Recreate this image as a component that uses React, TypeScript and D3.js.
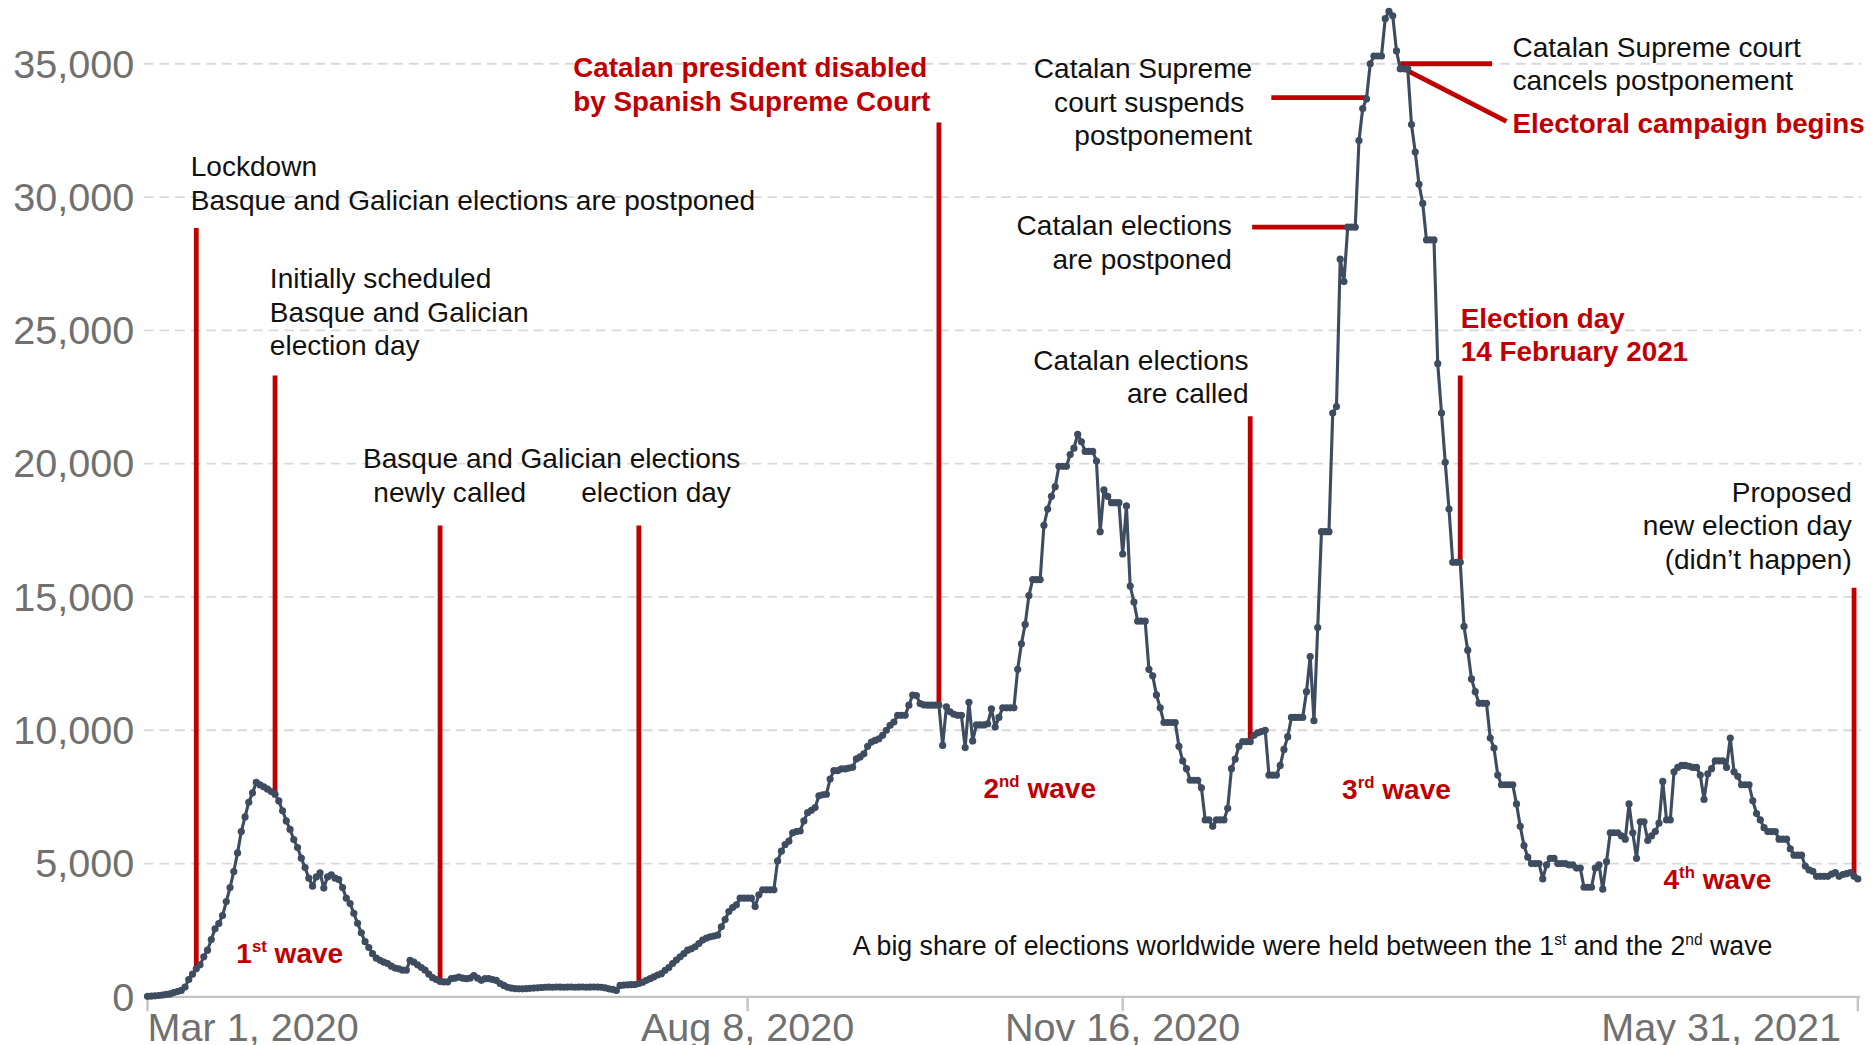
import React from 'react';
import * as d3 from 'd3';

// ---------- DATA ----------
const START = new Date(2020, 2, 1);
const END = new Date(2021, 4, 31);

const mar2020 = [20, 30, 40, 50, 70, 90, 110, 160, 200, 240, 365, 650, 850, 1050, 1200, 1500, 1750, 2150, 2550, 2750, 3050, 3575, 4100, 4700, 5400, 6200, 6750, 7300, 7650, 8050, 7950];
const apr2020 = [7880, 7790, 7700, 7600, 7350, 6980, 6600, 6280, 5900, 5600, 5200, 4850, 4450, 4150, 4500, 4650, 4080, 4500, 4580, 4450, 4400, 4100, 3700, 3500, 3135, 2760, 2400, 2070, 1850, 1620];
const may2020 = [1450, 1370, 1300, 1250, 1150, 1080, 1050, 1000, 1000, 1370, 1300, 1200, 1100, 1000, 850, 720, 650, 580, 560, 560, 680, 700, 740, 700, 680, 700, 800, 700, 620, 680, 680];
const jun2020 = [650, 615, 500, 430, 360, 330, 310, 300, 300, 310, 320, 330, 340, 350, 360, 365, 360, 370, 365, 360, 365, 370, 360, 365, 370, 360, 365, 370, 365, 360];
const jul2020 = [340, 300, 280, 240, 430, 440, 450, 455, 460, 500, 550, 620, 680, 750, 820, 870, 995, 1100, 1250, 1380, 1500, 1620, 1750, 1800, 1880, 2000, 2130, 2200, 2250, 2280, 2315];
const aug2020 = [2630, 2900, 3200, 3350, 3450, 3700, 3700, 3700, 3700, 3385, 3830, 4015, 4015, 4015, 4015, 5100, 5465, 5715, 5840, 6155, 6200, 6220, 6600, 6910, 7000, 7100, 7540, 7580, 7600, 8170, 8485];
const sep2020 = [8485, 8550, 8550, 8580, 8610, 8925, 9000, 9115, 9400, 9555, 9620, 9680, 9810, 10000, 10185, 10310, 10560, 10560, 10560, 10940, 11320, 11300, 11000, 10950, 10940, 10940, 10940, 10940, 9430, 10880];
const oct2020 = [10690, 10600, 10560, 10560, 9350, 11050, 9600, 10200, 10200, 10200, 10240, 10800, 10120, 10480, 10840, 10840, 10840, 10840, 12285, 13245, 13970, 15050, 15650, 15650, 15650, 17690, 18295, 18775, 19135, 19900, 19900];
const nov2020 = [19900, 20340, 20580, 21100, 20820, 20460, 20460, 20460, 20100, 17450, 19015, 18775, 18535, 18535, 18535, 16610, 18415, 15410, 14810, 14090, 14090, 14090, 12285, 12045, 11325, 10840, 10290, 10290, 10290, 10290];
const dec2020 = [9400, 8850, 8560, 8125, 8125, 8125, 7840, 6635, 6635, 6395, 6635, 6635, 6635, 7070, 8560, 8920, 9400, 9570, 9570, 9570, 9810, 9900, 9950, 10000, 8320, 8320, 8320, 8680, 9280, 9760, 10480];
const jan2021 = [10480, 10480, 10480, 11445, 12765, 10360, 13850, 17450, 17450, 17450, 21900, 22140, 27670, 26830, 28870, 28870, 28870, 32120, 33320, 33680, 35000, 35290, 35290, 35290, 36690, 36970, 36800, 35480, 34810, 34810, 34810];
const feb2021 = [32720, 31685, 30480, 29760, 28390, 28390, 28390, 23750, 21900, 20050, 18295, 16300, 16300, 16300, 13895, 13005, 11925, 11445, 11010, 11010, 11010, 9710, 9330, 8320, 7955, 7955, 7955, 7955];
const mar2021 = [7235, 6395, 5675, 5240, 5000, 5000, 5000, 4425, 4950, 5195, 5195, 5000, 5000, 5000, 4950, 4950, 4830, 4830, 4110, 4110, 4110, 4830, 4950, 4040, 5070, 6155, 6155, 6155, 6035, 5915, 7235];
const apr2021 = [6155, 5195, 6565, 6565, 5865, 6035, 6200, 6515, 8080, 6635, 6635, 8440, 8605, 8680, 8680, 8650, 8605, 8605, 8320, 7405, 8365, 8560, 8850, 8850, 8850, 8605, 9710, 8440, 8270, 7955];
const may2021 = [7955, 7955, 7355, 6875, 6635, 6345, 6200, 6200, 6200, 5915, 5915, 5915, 5555, 5315, 5315, 5315, 4905, 4760, 4710, 4520, 4520, 4520, 4520, 4600, 4665, 4520, 4590, 4620, 4665, 4520, 4425];

const monthly = [mar2020, apr2020, may2020, jun2020, jul2020, aug2020, sep2020, oct2020, nov2020, dec2020, jan2021, feb2021, mar2021, apr2021, may2021];

const yTicks = [0, 5000, 10000, 15000, 20000, 25000, 30000, 35000];
const xTickDates = ['2020-03-01', '2020-08-08', '2020-11-16', '2021-05-31'];
const xTickLabels = ['Mar 1, 2020', 'Aug 8, 2020', 'Nov 16, 2020', 'May 31, 2021'];

// vertical event markers: date + value where marker meets the curve
const vEventDates = ['2020-03-14', '2020-04-04', '2020-05-18', '2020-07-10', '2020-09-28', '2020-12-20', '2021-02-14', '2021-05-30'];
const vEventValues = [1050, 7600, 580, 500, 10940, 9570, 16300, 4520];
// horizontal event markers
const hEventDates = ['2021-01-15', '2021-01-20', '2021-01-29'];
const hEventValues = [28870, 33730, 35000];
// campaign begins (diagonal)
const campaignDate = '2021-01-30';
const campaignValue = 34810;

// ---------- LAYOUT ----------
const VW = 1560, VH = 871;
const FONT = '"Liberation Sans", Arial, Helvetica, sans-serif';
const RED = '#c00000';
const LINE = '#3e4c60';
const vEventTops = [190, 313, 438, 438, 102, 347, 313, 490];
const hEventOtherEnd = [1044, 1060, 1244];
const campaignEnd = [1256, 101];
const FS = 23.4;

const parse = d3.timeParse('%Y-%m-%d');

type Note = { lines: string[]; x: number; y: number; anchor?: string; red?: boolean; bold?: boolean };
const notes: Note[] = [
  { lines: ['Lockdown', 'Basque and Galician elections are postponed'], x: 159, y: 147 },
  { lines: ['Initially scheduled', 'Basque and Galician', 'election day'], x: 225, y: 240 },
  { lines: ['Basque and Galician elections'], x: 460, y: 390, anchor: 'middle' },
  { lines: ['newly called'], x: 375, y: 418, anchor: 'middle' },
  { lines: ['election day'], x: 547, y: 418, anchor: 'middle' },
  { lines: ['Catalan president disabled', 'by Spanish Supreme Court'], x: 478, y: 64, red: true, bold: true },
  { lines: ['Catalan Supreme'], x: 1044, y: 65, anchor: 'end' },
  { lines: ['court suspends'], x: 1037.5, y: 93, anchor: 'end' },
  { lines: ['postponement'], x: 1044, y: 121, anchor: 'end' },
  { lines: ['Catalan elections', 'are postponed'], x: 1027, y: 196, anchor: 'end' },
  { lines: ['Catalan elections', 'are called'], x: 1041, y: 308, anchor: 'end' },
  { lines: ['Catalan Supreme court', 'cancels postponement'], x: 1261, y: 47 },
  { lines: ['Electoral campaign begins'], x: 1261, y: 111, red: true, bold: true },
  { lines: ['Election day', '14 February 2021'], x: 1218, y: 273, red: true, bold: true },
  { lines: ['Proposed', 'new election day', '(didn\u2019t happen)'], x: 1544, y: 418, anchor: 'end' },
];

const waves = [
  { n: '1', sup: 'st', x: 197, y: 803 },
  { n: '2', sup: 'nd', x: 820, y: 665 },
  { n: '3', sup: 'rd', x: 1119, y: 666 },
  { n: '4', sup: 'th', x: 1387, y: 741 },
];

export default function App() {
  const series = monthly.flat().map((v, i) => ({ date: d3.timeDay.offset(START, i), value: v }));
  const x = d3.scaleTime().domain([START, END]).range([123, 1549]);
  const y = d3.scaleLinear().domain([0, 35000]).range([831, 53]);
  const line = d3.line<{ date: Date; value: number }>().x(d => x(d.date)).y(d => y(d.value));
  const fmt = d3.format(',');

  return (
    <div style={{ position: 'absolute', left: 0, top: 0 }}>
      <svg width={1871} height={1045} viewBox={`0 0 ${VW} ${VH}`} style={{ display: 'block', background: '#fff' }} fontFamily={FONT}>
        <rect x={0} y={0} width={VW} height={VH} fill="#fff" />
        {/* grid */}
        {yTicks.filter(t => t > 0).map(t => (
          <line key={t} x1={120} x2={1552} y1={y(t)} y2={y(t)} stroke="#d9d9d9" strokeWidth={1.5} strokeDasharray="8 5" />
        ))}
        {/* y labels */}
        {yTicks.map(t => (
          <text key={t} x={112} y={y(t) + 11.5} textAnchor="end" fontSize={33} fill="#707070">{fmt(t)}</text>
        ))}
        {/* x axis */}
        <line x1={120} x2={1551} y1={y(0)} y2={y(0)} stroke="#c4c4c4" strokeWidth={2} />
        {xTickDates.map((d, i) => {
          const xx = x(parse(d)!);
          const anchor = i === 0 ? 'start' : i === xTickDates.length - 1 ? 'end' : 'middle';
          const dx = i === xTickDates.length - 1 ? -14 : 0;
          return (
            <g key={d}>
              <line x1={xx} x2={xx} y1={y(0)} y2={y(0) + 12} stroke="#c4c4c4" strokeWidth={2} />
              <text x={xx + dx} y={868} textAnchor={anchor} fontSize={33} fill="#707070">{xTickLabels[i]}</text>
            </g>
          );
        })}
        {/* red event markers */}
        {vEventDates.map((d, i) => {
          const xx = x(parse(d)!);
          return <line key={d} x1={xx} x2={xx} y1={vEventTops[i]} y2={y(vEventValues[i])} stroke={RED} strokeWidth={4} />;
        })}
        {hEventDates.map((d, i) => (
          <line key={d} x1={hEventOtherEnd[i]} x2={x(parse(d)!)} y1={y(hEventValues[i])} y2={y(hEventValues[i])} stroke={RED} strokeWidth={4} />
        ))}
        <line x1={x(parse(campaignDate)!)} y1={y(campaignValue)} x2={campaignEnd[0]} y2={campaignEnd[1]} stroke={RED} strokeWidth={4} />
        {/* curve */}
        <path d={line(series) || ''} fill="none" stroke={LINE} strokeWidth={2.6} strokeLinejoin="round" />
        {series.map((d, i) => (
          <circle key={i} cx={x(d.date)} cy={y(d.value)} r={3} fill={LINE} />
        ))}
        {/* annotations */}
        {notes.map((n, i) => (
          <text key={i} x={n.x} y={n.y} textAnchor={n.anchor || 'start'} fontSize={n.bold ? 23.2 : FS}
            fill={n.red ? RED : '#111'} fontWeight={n.bold ? 'bold' : 'normal'}>
            {n.lines.map((l, j) => (
              <tspan key={j} x={n.x} dy={j === 0 ? 0 : 28}>{l}</tspan>
            ))}
          </text>
        ))}
        {waves.map(w => (
          <text key={w.n} x={w.x} y={w.y} fontSize={FS} fontWeight="bold" fill={RED}>
            {w.n}<tspan fontSize={14} dy={-9}>{w.sup}</tspan><tspan dy={9}>{' wave'}</tspan>
          </text>
        ))}
        <text x={711} y={796} fontSize={22.3} fill="#111">
          A big share of elections worldwide were held between the 1<tspan fontSize={13} dy={-8}>st</tspan>
          <tspan dy={8}>{' and the 2'}</tspan><tspan fontSize={13} dy={-8}>nd</tspan><tspan dy={8}>{' wave'}</tspan>
        </text>
      </svg>
    </div>
  );
}
